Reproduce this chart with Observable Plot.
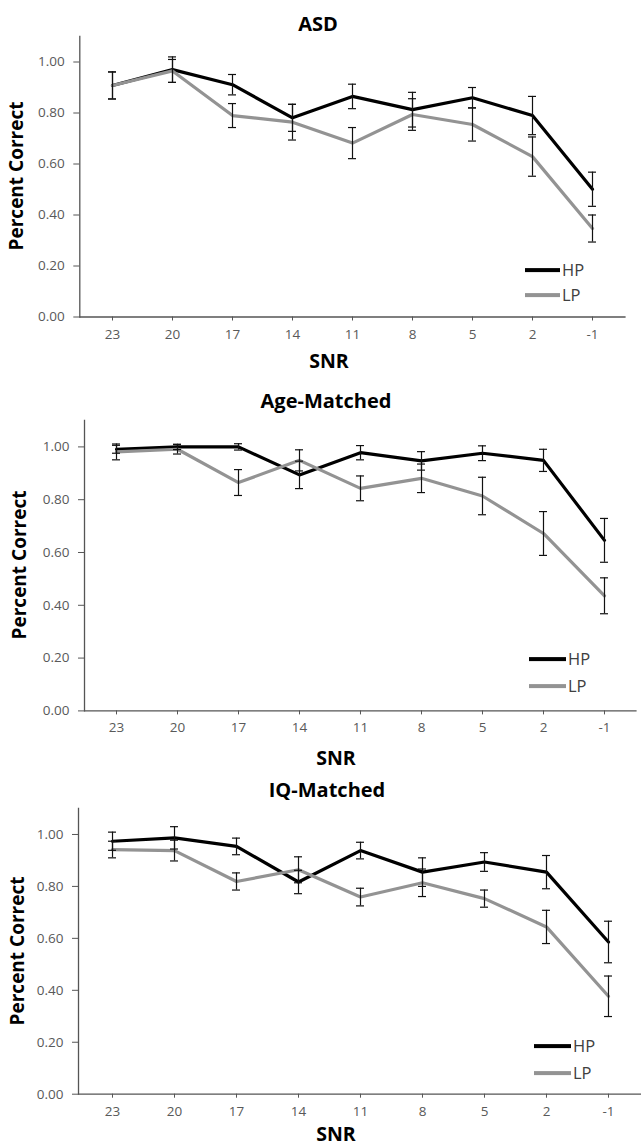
<!DOCTYPE html>
<html><head><meta charset="utf-8">
<script src="https://cdn.jsdelivr.net/npm/d3@7"></script>
<script src="https://cdn.jsdelivr.net/npm/@observablehq/plot@0.6"></script>
<style>
body{margin:0;background:#fff;}
#wrap{position:relative;width:641px;height:1146px;overflow:hidden;font-family:"Open Sans",sans-serif;background:#fff;}
.abs{position:absolute;white-space:nowrap;line-height:1;}
.title{font-weight:700;font-size:20px;color:#000;transform:translate(-50%,-50%);}
.xlab{font-weight:700;font-size:19.5px;color:#000;transform:translate(-50%,-50%);}
.ylab{font-weight:700;font-size:19px;color:#000;transform:translate(-50%,-50%) rotate(-90deg);}
.leg{font-size:16.5px;color:#404040;transform:translateY(-50%);}
.legline{position:absolute;height:3.8px;transform:translateY(-50%);}
svg{position:absolute;left:0;overflow:visible;}
</style></head><body><div id="wrap"></div>
<script>
// Categories (SNR, dB)
const snr = ["23","20","17","14","11","8","5","2","-1"];
const groups = ["HP","LP"];
const yTicks = [0, 0.2, 0.4, 0.6, 0.8, 1.0];

// ASD
const asdHP    = [0.908, 0.970, 0.911, 0.781, 0.865, 0.813, 0.860, 0.790, 0.501];
const asdHPerr = [0.053, 0.050, 0.040, 0.053, 0.048, 0.068, 0.040, 0.075, 0.067];
const asdLP    = [0.908, 0.965, 0.790, 0.764, 0.682, 0.794, 0.755, 0.629, 0.347];
const asdLPerr = [0.053, 0.045, 0.047, 0.070, 0.061, 0.062, 0.065, 0.077, 0.053];

// Age-Matched
const ageHP    = [0.991, 1.000, 1.000, 0.894, 0.978, 0.947, 0.976, 0.949, 0.646];
const ageHPerr = [0.015, 0.010, 0.012, 0.052, 0.027, 0.035, 0.028, 0.042, 0.083];
const ageLP    = [0.981, 0.991, 0.865, 0.949, 0.843, 0.881, 0.814, 0.672, 0.436];
const ageLPerr = [0.030, 0.018, 0.049, 0.040, 0.047, 0.054, 0.071, 0.083, 0.068];

// IQ-Matched
const iqHP    = [0.974, 0.987, 0.954, 0.817, 0.938, 0.855, 0.894, 0.855, 0.586];
const iqHPerr = [0.035, 0.043, 0.032, 0.045, 0.032, 0.055, 0.036, 0.064, 0.080];
const iqLP    = [0.942, 0.938, 0.819, 0.864, 0.759, 0.814, 0.753, 0.644, 0.377];
const iqLPerr = [0.032, 0.040, 0.033, 0.050, 0.034, 0.053, 0.033, 0.064, 0.078];

const colors = {HP: "#000000", LP: "#939393"};

const panels = [
  {title:"ASD", hp:asdHP, hpErr:asdHPerr, lp:asdLP, lpErr:asdLPerr,
   top:36.2, bottom:316.7, left:79.3, right:625.6,
   titleX:318, titleY:24, snrX:329, snrY:361, ylabX:16,
   legX:524.5, legW:35.5, legY:[270,295]},
  {title:"Age-Matched", hp:ageHP, hpErr:ageHPerr, lp:ageLP, lpErr:ageLPerr,
   top:419.6, bottom:710, left:84, right:636.6,
   titleX:326, titleY:401, snrX:336, snrY:758, ylabX:19,
   legX:529, legW:37, legY:[659,686]},
  {title:"IQ-Matched", hp:iqHP, hpErr:iqHPerr, lp:iqLP, lpErr:iqLPerr,
   top:808.3, bottom:1094, left:78, right:641.4,
   titleX:327, titleY:790, snrX:336, snrY:1134, ylabX:17,
   legX:534.3, legW:36.7, legY:[1046,1073.3]}
];

const wrap = document.getElementById("wrap");
function addDiv(cls, text, x, y){
  const d = document.createElement("div");
  d.className = "abs " + cls;
  d.textContent = text;
  d.style.left = x + "px"; d.style.top = y + "px";
  wrap.appendChild(d);
  return d;
}

for (const p of panels) {
  const rows = [];
  snr.forEach((s, i) => {
    rows.push({snr: s, group: "HP", v: p.hp[i], e: p.hpErr[i]});
    rows.push({snr: s, group: "LP", v: p.lp[i], e: p.lpErr[i]});
  });
  const mt = 10, mb = 40;
  const chart = Plot.plot({
    width: 641,
    height: (p.bottom - p.top) + mt + mb,
    marginTop: mt, marginBottom: mb,
    marginLeft: p.left, marginRight: 641 - p.right,
    style: {fontFamily: "'Open Sans', sans-serif", background: "transparent", overflow: "visible"},
    x: {type: "point", domain: snr, padding: 0.5, align: 0.5, axis: null},
    y: {domain: [0, 1.1], axis: null},
    marks: [
      Plot.axisY({ticks: yTicks, tickFormat: d => d.toFixed(2), tickSize: 6, tickPadding: 9,
                  fontSize: 13.5, fill: "#595959", stroke: "#555", label: null}),
      Plot.axisX({tickSize: 4, tickPadding: 8, fontSize: 13.5, fill: "#595959", stroke: "#555", label: null}),
      Plot.frame({anchor: "left", stroke: "#555", strokeWidth: 1.3}),
      Plot.ruleY([0], {stroke: "#555", strokeWidth: 1.3}),
      ...groups.map(g => Plot.line(rows.filter(r => r.group === g),
        {x: "snr", y: "v", stroke: colors[g], strokeWidth: 3.2, strokeLinejoin: "round"})),
      Plot.ruleX(rows, {x: "snr", y1: d => d.v - d.e, y2: d => d.v + d.e, stroke: "#111", strokeWidth: 1.2}),
      Plot.ruleY(rows, {x1: "snr", x2: "snr", y: d => d.v + d.e, insetLeft: -4, insetRight: -4, stroke: "#111", strokeWidth: 1.2}),
      Plot.ruleY(rows, {x1: "snr", x2: "snr", y: d => d.v - d.e, insetLeft: -4, insetRight: -4, stroke: "#111", strokeWidth: 1.2})
    ]
  });
  chart.style.top = (p.top - mt) + "px";
  wrap.appendChild(chart);

  addDiv("title", p.title, p.titleX, p.titleY);
  addDiv("xlab", "SNR", p.snrX, p.snrY);
  addDiv("ylab", "Percent Correct", p.ylabX, (p.top + p.bottom) / 2);
  groups.forEach((g, k) => {
    const l = document.createElement("div");
    l.className = "legline";
    l.style.left = p.legX + "px"; l.style.top = p.legY[k] + "px";
    l.style.width = p.legW + "px"; l.style.background = colors[g];
    wrap.appendChild(l);
    addDiv("leg", g, p.legX + p.legW + 2, p.legY[k]);
  });
}
</script></body></html>
